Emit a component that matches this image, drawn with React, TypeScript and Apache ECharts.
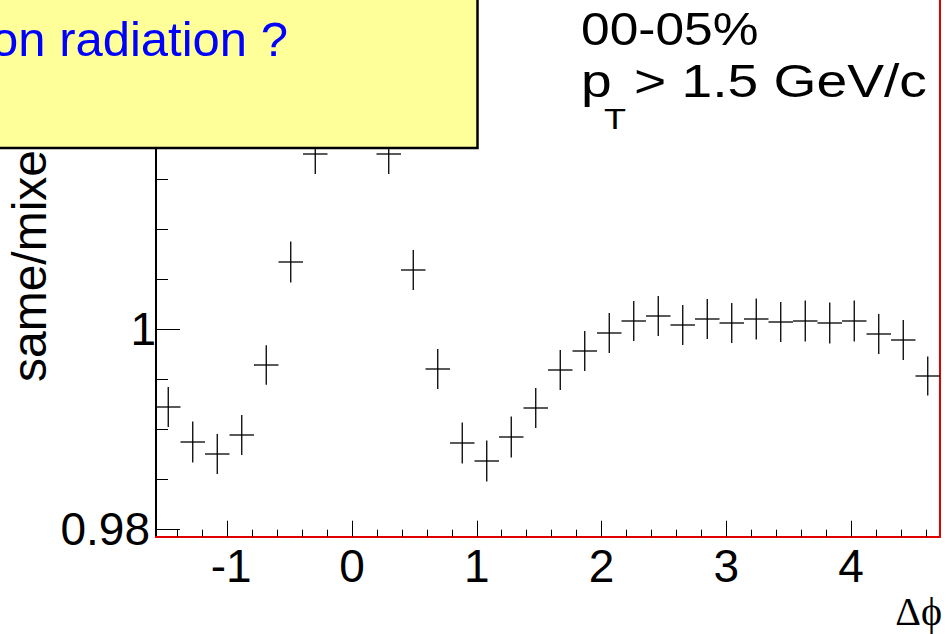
import React, { useEffect, useRef } from "react";
import * as echarts from "echarts";

// Histogram: 32 bins over [-pi/2, 3pi/2]
const binCenters = [
  -1.4726, -1.2763, -1.0799, -0.8836, -0.6872, -0.4909, -0.2945, -0.0982,
  0.0982, 0.2945, 0.4909, 0.6872, 0.8836, 1.0799, 1.2763, 1.4726,
  1.669, 1.8653, 2.0617, 2.258, 2.4544, 2.6507, 2.8471, 3.0434,
  3.2398, 3.4361, 3.6325, 3.8288, 4.0252, 4.2215, 4.4179, 4.6142,
];
const binWidth = 0.19635;

const ratio = [
  0.9922, 0.9887, 0.9875, 0.9894, 0.9964, 1.0067, 1.0175, 1.024,
  1.024, 1.0175, 1.0059, 0.996, 0.9886, 0.9868, 0.9892, 0.9921,
  0.9959, 0.9978, 0.9996, 1.0008, 1.0013, 1.0004, 1.001, 1.0006,
  1.001, 1.0007, 1.0008, 1.0006, 1.0008, 0.9995, 0.9989, 0.9953,
];
const ratioErr = [
  0.002, 0.00205, 0.002, 0.002, 0.00197, 0.00205, 0.002, 0.002,
  0.002, 0.002, 0.002, 0.002, 0.00205, 0.00205, 0.00205, 0.002,
  0.002, 0.002, 0.002, 0.002, 0.002, 0.002, 0.002, 0.002,
  0.00205, 0.002, 0.00205, 0.00205, 0.00205, 0.002, 0.002, 0.00195,
];

const xMin = -Math.PI / 2;
const xMax = (3 * Math.PI) / 2;
const yMin = 0.97923;
const yMax = 1.0329;

const xMajorTicks = [-1, 0, 1, 2, 3, 4];
const xMinorTicks = [
  -1.4, -1.2, -0.8, -0.6, -0.4, -0.2, 0.2, 0.4, 0.6, 0.8, 1.2, 1.4, 1.6, 1.8,
  2.2, 2.4, 2.6, 2.8, 3.2, 3.4, 3.6, 3.8, 4.2, 4.4, 4.6,
];
const yMajorTicks = [0.98, 1, 1.02];
const yMinorTicks = [0.985, 0.99, 0.995, 1.005, 1.01, 1.015, 1.025, 1.03];
const yLabels = [0.98, 1];

const SANS = "Liberation Sans, Arial, Helvetica, sans-serif";
const SERIF = "Liberation Serif, DejaVu Serif, Times New Roman, serif";

function textEl(opts: any) {
  const { text, x, y, size, family, color, align, valign, scaleX, rotation, z } = opts;
  return {
    type: "text",
    x,
    y,
    scaleX: scaleX ?? 1,
    rotation: rotation ?? 0,
    z: z ?? 110,
    style: {
      text,
      fontSize: size,
      fontFamily: family ?? SANS,
      fill: color ?? "#000",
      align: align ?? "left",
      textAlign: align ?? "left",
      verticalAlign: valign ?? "middle",
      textVerticalAlign: valign ?? "middle",
    },
  };
}

export default function App() {
  const ref = useRef<HTMLDivElement>(null);

  useEffect(() => {
    if (!ref.current) return;
    const chart = echarts.init(ref.current, null, { renderer: "svg" });

    const tickStyle = { color: "#000", width: 1 };

    const option: any = {
      animation: false,
      backgroundColor: "#fff",
      grid: {
        left: 156,
        right: 11,
        top: 0,
        bottom: 97.3,
        outerBoundsMode: "none",
        containLabel: false,
      },
      xAxis: [
        {
          type: "value",
          min: xMin,
          max: xMax,
          position: "bottom",
          axisLine: { show: true, onZero: false, lineStyle: { color: "#e00000", width: 2 } },
          axisTick: { show: true, inside: true, length: 16, customValues: xMajorTicks, lineStyle: tickStyle },
          axisLabel: {
            show: true,
            customValues: xMajorTicks,
            margin: 6,
            color: "#000",
            fontSize: 46,
            fontFamily: SANS,
            formatter: (v: number) => (v === -1 ? "{neg|-1}" : "{d|" + v + "}"),
            rich: {
              neg: { fontSize: 46, fontFamily: SANS, color: "#000", padding: [0, 0, 0, 8] },
              d: { fontSize: 46, fontFamily: SANS, color: "#000" },
            },
          },
          splitLine: { show: false },
        },
        {
          type: "value",
          min: xMin,
          max: xMax,
          position: "bottom",
          axisLine: { show: false, onZero: false },
          axisTick: { show: true, inside: true, length: 7, customValues: xMinorTicks, lineStyle: tickStyle },
          axisLabel: { show: false },
          splitLine: { show: false },
        },
      ],
      yAxis: [
        {
          type: "value",
          min: yMin,
          max: yMax,
          position: "left",
          axisLine: { show: true, onZero: false, lineStyle: { color: "#000", width: 2 } },
          axisTick: { show: true, inside: true, length: 24, customValues: yMajorTicks, lineStyle: tickStyle },
          axisLabel: {
            show: true,
            customValues: yLabels,
            margin: 0,
            color: "#000",
            fontSize: 46,
            fontFamily: SANS,
            formatter: (v: number) => (v === 1 ? "{one|1}" : "{n|" + v + "}"),
            rich: {
              one: { fontSize: 46, fontFamily: SANS, color: "#000" },
              n: { fontSize: 46, fontFamily: SANS, color: "#000", padding: [0, 6, 0, 0] },
            },
          },
          splitLine: { show: false },
        },
        {
          type: "value",
          min: yMin,
          max: yMax,
          position: "left",
          axisLine: { show: false, onZero: false },
          axisTick: { show: true, inside: true, length: 12, customValues: yMinorTicks, lineStyle: tickStyle },
          axisLabel: { show: false },
          splitLine: { show: false },
        },
        {
          type: "value",
          min: yMin,
          max: yMax,
          position: "right",
          axisLine: { show: true, onZero: false, lineStyle: { color: "#e00000", width: 2 } },
          axisTick: { show: false },
          axisLabel: { show: false },
          splitLine: { show: false },
        },
      ],
      series: [
        {
          type: "custom",
          xAxisIndex: 0,
          yAxisIndex: 0,
          clip: true,
          z: 3,
          encode: { x: 0, y: 1 },
          data: binCenters.map((x, i) => [x, ratio[i], ratioErr[i]]),
          renderItem: (_params: any, api: any) => {
            const x = api.value(0);
            const y = api.value(1);
            const e = api.value(2);
            const l = api.coord([x - binWidth / 2, y]);
            const r = api.coord([x + binWidth / 2, y]);
            const t = api.coord([x, y + e]);
            const b = api.coord([x, y - e]);
            const style = { stroke: "#000", lineWidth: 1.3 };
            return {
              type: "group",
              children: [
                { type: "line", shape: { x1: l[0], y1: l[1], x2: r[0], y2: r[1] }, style },
                { type: "line", shape: { x1: t[0], y1: t[1], x2: b[0], y2: b[1] }, style },
              ],
            };
          },
        },
      ],
      graphic: {
        elements: [
          textEl({ text: "same/mixed", x: 29.5, y: 382, size: 48, rotation: Math.PI / 2, z: 50 }),
          {
            type: "rect",
            z: 100,
            shape: { x: -10, y: -10, width: 487.5, height: 158 },
            style: { fill: "#FFFF99", stroke: "#000", lineWidth: 2.5 },
          },
          textEl({ text: "on radiation ?", x: 288, y: 38.7, size: 49, color: "#0000ff", align: "right", z: 101 }),
          textEl({ text: "00-05%", x: 581, y: 29, size: 46, scaleX: 1.12 }),
          textEl({ text: "p", x: 581, y: 81, size: 46, scaleX: 1.2 }),
          textEl({ text: "T", x: 604, y: 119, size: 30, scaleX: 1.2 }),
          textEl({ text: "> 1.5 GeV/c", x: 634, y: 81, size: 46, scaleX: 1.2 }),
          textEl({ text: "Δϕ", x: 942, y: 611, size: 40, family: SERIF, align: "right" }),
        ],
      },
    };

    chart.setOption(option);
    return () => chart.dispose();
  }, []);

  return (
    <div
      ref={ref}
      style={{
        position: "absolute",
        left: 0,
        top: 0,
        width: 951,
        height: 634,
        overflow: "hidden",
        background: "#fff",
      }}
    />
  );
}
